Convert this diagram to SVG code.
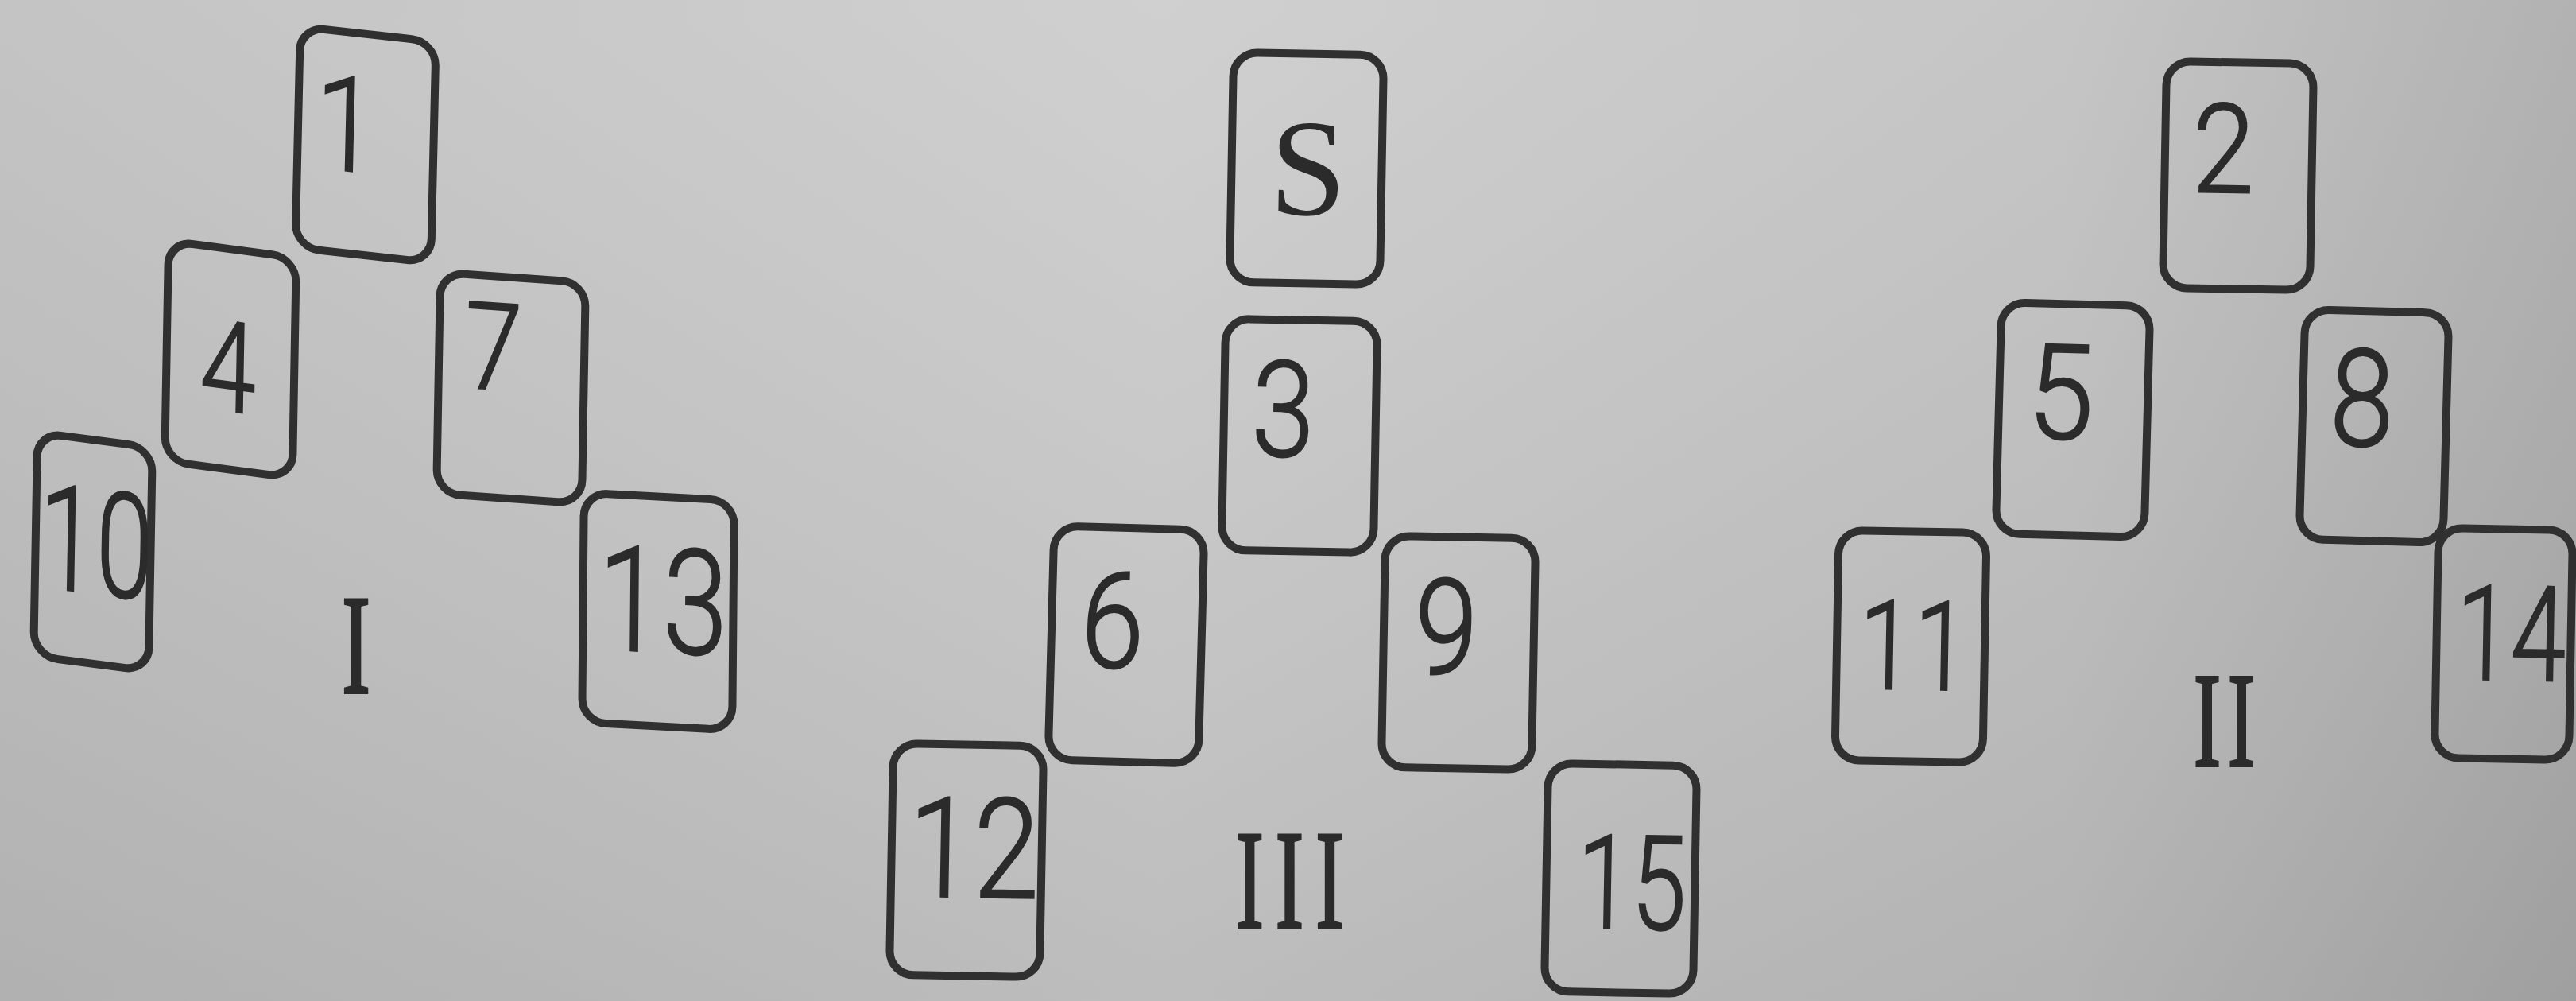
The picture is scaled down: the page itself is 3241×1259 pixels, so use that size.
<svg xmlns="http://www.w3.org/2000/svg" width="3241" height="1259" viewBox="0 0 3241 1259">
  <defs>
    <linearGradient id="paper" x1="0" y1="0" x2="1" y2="0">
      <stop offset="0" stop-color="#c0c0c0"/>
      <stop offset="0.45" stop-color="#cdcdcd"/>
      <stop offset="0.8" stop-color="#c2c2c2"/>
      <stop offset="1" stop-color="#adadad"/>
    </linearGradient>
    <linearGradient id="shade" x1="0" y1="0" x2="0" y2="1">
      <stop offset="0" stop-color="#ffffff" stop-opacity="0.06"/>
      <stop offset="1" stop-color="#000000" stop-opacity="0.08"/>
    </linearGradient>
  </defs>
  <style>
    .card rect { fill: none; stroke: #303030; stroke-width: 10; }
    .num { font-family: Roboto, "Liberation Sans", sans-serif; font-weight: 300; fill: #2b2b2b; stroke: #2b2b2b; stroke-width: 2.5; text-anchor: middle; }
    .ser { font-family: "Liberation Serif", serif; fill: #2b2b2b; text-anchor: middle; }
    .rom { stroke: #2b2b2b; stroke-width: 4; }
  </style>
  <rect x="0" y="0" width="3241" height="1259" fill="url(#paper)"/>
  <rect x="0" y="0" width="3241" height="1259" fill="url(#shade)"/>

  <!-- Group I -->
  <g id="card-1" class="card" transform="translate(460,182) rotate(1.3) skewY(5)">
    <rect x="-85.5" y="-139" width="171" height="278" rx="30"/>
    <text class="num" transform="translate(-25,35) scale(0.85,1)" font-size="166">1</text>
  </g>
  <g id="card-4" class="card" transform="translate(290,452) rotate(1) skewY(6.5)">
    <rect x="-80.5" y="-138.5" width="161" height="277" rx="30"/>
    <text class="num" transform="translate(-3,65) scale(0.8,1)" font-size="158">4</text>
  </g>
  <g id="card-7" class="card" transform="translate(643,488) rotate(1) skewY(3)">
    <rect x="-91.5" y="-139" width="183" height="278" rx="30"/>
    <text class="num" transform="translate(-23,3) scale(0.85,1)" font-size="152">7</text>
  </g>
  <g id="card-10" class="card" transform="translate(117,694) rotate(1) skewY(6.5)">
    <rect x="-72.5" y="-140.5" width="145" height="281" rx="30"/>
    <text class="num" transform="translate(4,52) scale(0.7,1)" font-size="184">10</text>
  </g>
  <g id="card-13" class="card" transform="translate(828,769) rotate(0.5) skewY(2.5)">
    <rect x="-94.5" y="-144.5" width="189" height="289" rx="30"/>
    <text class="num" transform="translate(6,51) scale(0.8,1)" font-size="184">13</text>
  </g>
  <text id="label-I" class="ser rom" transform="translate(448,871) scale(0.6,1)" font-size="178">I</text>

  <!-- Group III -->
  <g id="card-S" class="card" transform="translate(1644,212) rotate(1)">
    <rect x="-94.5" y="-144.5" width="189" height="289" rx="30"/>
    <text class="ser" x="2" y="58" font-size="174">S</text>
  </g>
  <g id="card-3" class="card" transform="translate(1635,548) rotate(1)">
    <rect x="-95.5" y="-145.5" width="191" height="291" rx="30"/>
    <text class="num" transform="translate(-21,26) scale(0.85,1)" font-size="168">3</text>
  </g>
  <g id="card-6" class="card" transform="translate(1417,811) rotate(1.5)">
    <rect x="-94.5" y="-147" width="189" height="294" rx="30"/>
    <text class="num" transform="translate(-18,29) scale(0.85,1)" font-size="168">6</text>
  </g>
  <g id="card-9" class="card" transform="translate(1835,821) rotate(1)">
    <rect x="-94.5" y="-145.5" width="189" height="291" rx="30"/>
    <text class="num" transform="translate(-16,27) scale(0.85,1)" font-size="168">9</text>
  </g>
  <g id="card-12" class="card" transform="translate(1216,1082) rotate(1)">
    <rect x="-94.5" y="-145.5" width="189" height="291" rx="30"/>
    <text class="num" transform="translate(9,46) scale(0.85,1)" font-size="175">12</text>
  </g>
  <g id="card-15" class="card" transform="translate(2039,1105) rotate(1)">
    <rect x="-93.5" y="-143.5" width="187" height="287" rx="30"/>
    <text class="num" transform="translate(14,63) scale(0.75,1)" font-size="165">15</text>
  </g>
  <text id="label-III" class="ser rom" transform="translate(1630,1167) scale(0.6,1)" font-size="177" letter-spacing="25">III</text>

  <!-- Group II -->
  <g id="card-2" class="card" transform="translate(2816,221) rotate(1)">
    <rect x="-92.5" y="-142.5" width="185" height="285" rx="30"/>
    <text class="num" transform="translate(-19,21) scale(0.9,1)" font-size="156">2</text>
  </g>
  <g id="card-5" class="card" transform="translate(2608,528) rotate(1.5)">
    <rect x="-93.5" y="-145.5" width="187" height="291" rx="30"/>
    <text class="num" transform="translate(-16,24) scale(0.9,1)" font-size="166">5</text>
  </g>
  <g id="card-8" class="card" transform="translate(2987,536) rotate(1.5)">
    <rect x="-90.5" y="-144.5" width="181" height="289" rx="30"/>
    <text class="num" transform="translate(-16,25) scale(0.85,1)" font-size="170">8</text>
  </g>
  <g id="card-11" class="card" transform="translate(2404,813) rotate(1)">
    <rect x="-93" y="-144.5" width="186" height="289" rx="30"/>
    <text class="num" transform="translate(4,54) scale(0.8,1)" font-size="156">11</text>
  </g>
  <g id="card-14" class="card" transform="translate(3150,810) rotate(1)">
    <rect x="-84.5" y="-144.5" width="169" height="289" rx="30"/>
    <text class="num" transform="translate(9,45) scale(0.75,1)" font-size="166">14</text>
  </g>
  <text id="label-II" class="ser rom" transform="translate(2803,963) scale(0.6,1)" font-size="170" letter-spacing="15">II</text>
</svg>
